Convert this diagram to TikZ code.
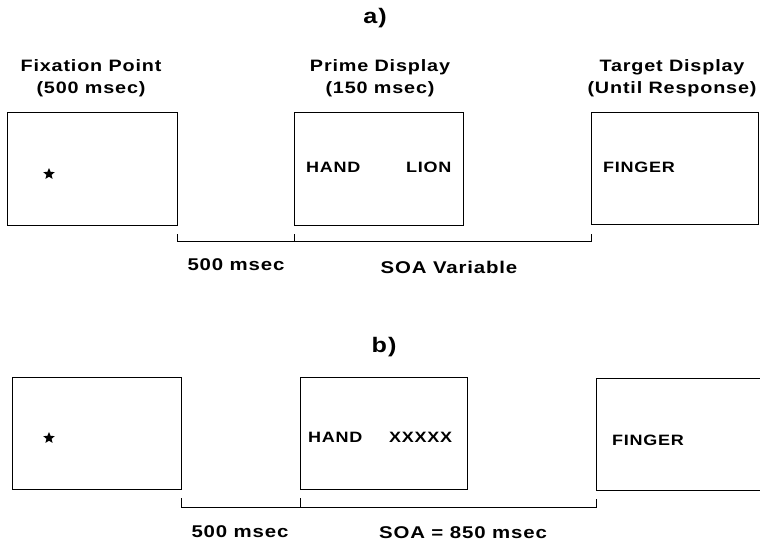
\documentclass[tikz,border=0pt]{standalone}
\usepackage{fontspec}
\newfontfamily\figfont[FakeStretch=1.2,LetterSpace=5]{Liberation Sans}
\usetikzlibrary{calc,shapes.geometric}

\begin{document}
\begin{tikzpicture}[x=1pt,y=-1pt,
  screen/.style={draw,line width=0.8pt,anchor=north west,inner sep=0pt,outer sep=0pt},
  head/.style={font=\figfont\bfseries\fontsize{16.5}{22}\selectfont,align=center},
  word/.style={font=\figfont\bfseries\fontsize{15}{17}\selectfont,anchor=west,inner sep=0pt},
  timelbl/.style={font=\figfont\bfseries\fontsize{17}{20}\selectfont},
  paneltitle/.style={font=\figfont\bfseries\fontsize{21}{25}\selectfont},
  fixstar/.style={star,star points=5,star point ratio=2.2,fill,inner sep=0pt,minimum size=12pt},
  brace/.style={line width=0.8pt}]
  \clip (0,0) rectangle (760,546);
  % a) variable SOA
  \node[paneltitle] (titleA) at (375,18) {a)};
  \node[head] (headFix) at (91,78) {Fixation Point\\(500 msec)};
  \node[head] (headPrime) at (380,78) {Prime Display\\(150 msec)};
  \node[head] (headTgt) at (672,78) {Target Display\\(Until Response)};
  \node[screen,minimum width=170pt,minimum height=113pt] (fixA) at (7,112) {};
  \node[screen,minimum width=169pt,minimum height=113pt] (primeA) at (294,112) {};
  \node[screen,minimum width=167pt,minimum height=112pt] (tgtA) at (591,112) {};
  \node[fixstar] (starA) at (49,174) {};
  \node[word] (handA) at (306,167) {HAND};
  \node[word] (lionA) at (406,167) {LION};
  \node[word] (fingerA) at (603,167) {FINGER};
  \draw[brace] ($(fixA.south east)+(0,9)$) |- ($(tgtA.south west)+(0,17)$) -- ++(0,-7);
  \draw[brace] ($(primeA.south west)+(0,9)$) -- ++(0,7);
  \node[timelbl] (gapA) at (236,265) {500 msec};
  \node[timelbl] (soaA) at (449,267) {SOA Variable};
  % b) fixed SOA
  \node[paneltitle] (titleB) at (384,347) {b)};
  \node[screen,minimum width=169pt,minimum height=112pt] (fixB) at (12,377) {};
  \node[screen,minimum width=167pt,minimum height=112pt] (primeB) at (300,377) {};
  \node[screen,minimum width=200pt,minimum height=112pt] (tgtB) at (596,378) {};
  \node[fixstar] (starB) at (49,438) {};
  \node[word] (handB) at (308,437) {HAND};
  \node[word] (maskB) at (389,437) {XXXXX};
  \node[word] (fingerB) at (612,440) {FINGER};
  \draw[brace] ($(fixB.south east)+(0,9)$) |- ($(tgtB.south west)+(0,17)$) -- ++(0,-8);
  \draw[brace] ($(primeB.south west)+(0,9)$) -- ++(0,9);
  \node[timelbl] (gapB) at (240,532) {500 msec};
  \node[timelbl] (soaB) at (463,533) {SOA = 850 msec};
\end{tikzpicture}
\end{document}
